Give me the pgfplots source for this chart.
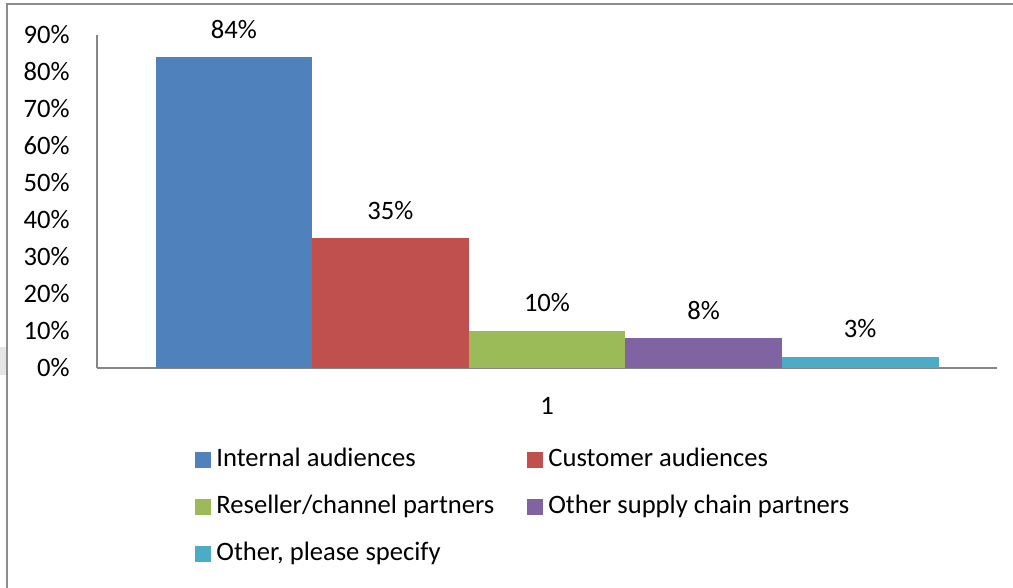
\documentclass[border=0pt]{standalone}
\usepackage{pgfplots}
\pgfplotsset{compat=1.18}
\usepackage{fontspec}
\setmainfont{Carlito}
\definecolor{cBlue}{RGB}{79,129,189}
\definecolor{cRed}{RGB}{192,80,77}
\definecolor{cGreen}{RGB}{155,187,89}
\definecolor{cPurple}{RGB}{128,100,162}
\definecolor{cAqua}{RGB}{75,172,198}
\definecolor{axisgray}{RGB}{134,134,134}
\definecolor{framegray}{RGB}{140,140,140}
\begin{document}
\begin{tikzpicture}[font=\fontsize{13.3pt}{16pt}\selectfont]
\useasboundingbox (0,0) rectangle (506.5pt,294pt);
\fill[black!10] (0,106.5pt) rectangle (3pt,120.5pt);
\draw[framegray, line width=1pt] (3.5pt,0) -- (3.5pt,292pt) -- (506.5pt,292pt);
\begin{axis}[
  at={(48.5pt,110pt)}, anchor=south west,
  scale only axis, width=450pt, height=166.5pt,
  ybar=0pt, bar width=78.3pt,
  xmin=0.5, xmax=1.5, ymin=0, ymax=90,
  xtick={1}, xticklabels={1},
  ytick={0,10,...,90},
  yticklabel={\pgfmathprintnumber{\tick}\%},
  /pgf/number format/assume math mode=true,
  axis x line*=bottom, axis y line*=left,
  axis line style={draw=axisgray, line width=0.6pt, -},
  major tick length=0pt,
  tick style={draw=none},
  yticklabel style={inner xsep=0pt, xshift=-13.5pt},
  xticklabel style={inner ysep=0pt, yshift=-14.3pt},
  nodes near coords={\pgfmathprintnumber{\pgfplotspointmeta}\%},
  every node near coord/.append style={anchor=base, yshift=9.5pt, black},
  legend columns=2,
  legend cell align=left,
  legend style={at={(0.1089,-0.2234)}, anchor=north west, draw=none, fill=none,
    inner sep=0pt, row sep=6.5pt,
    nodes={text height=10pt, text depth=3pt, inner xsep=2.5pt, inner ysep=2pt},
    /tikz/every even column/.append style={column sep=14pt}},
  legend image code/.code={\fill[#1] (0pt,-4pt) rectangle (8pt,4pt);},
]
\addplot[fill=cBlue, draw=none] coordinates {(1,84)};
\addlegendentry{Internal audiences}
\addplot[fill=cRed, draw=none] coordinates {(1,35)};
\addlegendentry{Customer audiences}
\addplot[fill=cGreen, draw=none] coordinates {(1,10)};
\addlegendentry{Reseller/channel partners}
\addplot[fill=cPurple, draw=none] coordinates {(1,8)};
\addlegendentry{Other supply chain partners}
\addplot[fill=cAqua, draw=none] coordinates {(1,3)};
\addlegendentry{Other, please specify}
\end{axis}
\end{tikzpicture}
\end{document}
